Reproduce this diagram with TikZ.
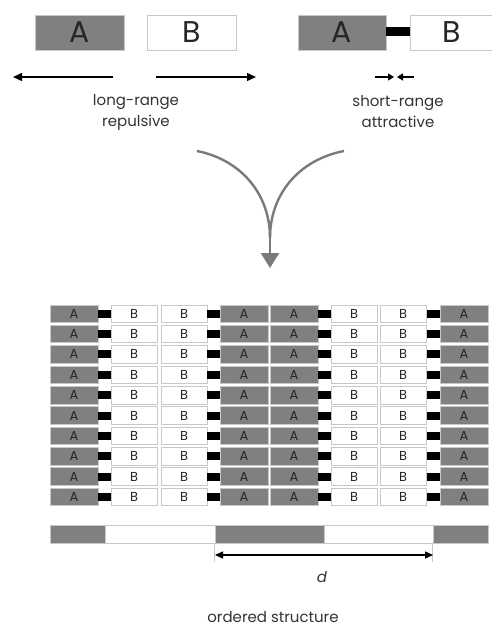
\documentclass[tikz,border=0pt]{standalone}
\usepackage{fontspec}
\setmainfont{Poppins}
\usetikzlibrary{arrows.meta}
\definecolor{agray}{HTML}{808080}
\definecolor{edgegray}{HTML}{C8C8C8}
\definecolor{curvegray}{HTML}{7A7A7A}
\definecolor{txtgray}{HTML}{333333}
\tikzset{
  abox/.style={draw=edgegray, line width=0.8pt, fill=agray, inner sep=0pt, text=black!85},
  bbox/.style={draw=edgegray, line width=0.8pt, fill=white, inner sep=0pt, text=black!85},
  bondbox/.style={fill=black, draw=none, inner sep=0pt},
  bigbox/.style={minimum width=89pt, minimum height=35pt, font=\fontsize{30}{30}\selectfont},
  cell/.style={minimum height=17.5pt, font=\fontsize{13}{13}\selectfont},
  barseg/.style={minimum height=18pt, inner sep=0pt},
  arr/.style={line width=1.4pt, -{Triangle[length=9pt,width=8pt]}},
  sarr/.style={line width=1.2pt, -{Triangle[length=6pt,width=7pt]}},
  lbl/.style={align=center, text=txtgray, font=\fontsize{15}{21}\selectfont, inner sep=0pt},
}
\begin{document}
\begin{tikzpicture}[x=1pt,y=-1pt]
\useasboundingbox (0,0) rectangle (491,628);
% top left: repulsive
\node[abox,bigbox] (tA) at (79.5,32.5) {A};
\node[bbox,bigbox] (tB) at (191.5,32.5) {B};
\coordinate (la0) at (113,77); \coordinate (la1) at (13,77);
\coordinate (ra0) at (156,77); \coordinate (ra1) at (256,77);
\draw[arr] (la0) -- (la1);
\draw[arr] (ra0) -- (ra1);
\node[lbl] (rep) at (136,112) {long-range\\repulsive};
% top right: attractive
\node[abox,bigbox,minimum width=88pt] (rA) at (342,32.5) {A};
\node[bondbox,minimum width=24pt,minimum height=9pt] (rbond) at (398,32) {};
\node[bbox,bigbox,minimum width=84pt] (rB) at (452,32.5) {B};
\coordinate (sa0) at (375,77); \coordinate (sa1) at (394,77);
\coordinate (sb0) at (414,77); \coordinate (sb1) at (397,77);
\draw[sarr] (sa0) -- (sa1);
\draw[sarr] (sb0) -- (sb1);
\node[lbl] (att) at (398,112) {short-range\\attractive};
% curved arrow
\coordinate (cl) at (197,151);
\coordinate (cr) at (344,151);
\coordinate (cm) at (270,238);
\coordinate (ctip) at (270,268);
\draw[curvegray, line width=2.4pt] (cl) .. controls (242,160) and (270,195) .. (cm);
\draw[curvegray, line width=2.4pt] (cr) .. controls (298,160) and (270,195) .. (cm);
\draw[curvegray, line width=2.4pt, -{Triangle[length=15pt,width=18pt]}] (cm) -- (ctip);
% ordered lamellae
\foreach \i in {0,...,9}{
  \pgfmathsetmacro{\yy}{313.75+\i*20.35}
  \node[abox,cell,minimum width=48pt] (a1-\i) at (74,\yy) {A};
  \node[bondbox,minimum width=13pt,minimum height=8pt] (k1-\i) at (104.5,\yy) {};
  \node[bbox,cell,minimum width=46pt] (b1-\i) at (134,\yy) {B};
  \node[bbox,cell,minimum width=46pt] (b2-\i) at (184,\yy) {B};
  \node[bondbox,minimum width=13pt,minimum height=8pt] (k2-\i) at (213.5,\yy) {};
  \node[abox,cell,minimum width=48pt] (a2-\i) at (244,\yy) {A};
  \node[abox,cell,minimum width=48pt] (a3-\i) at (294,\yy) {A};
  \node[bondbox,minimum width=13pt,minimum height=8pt] (k3-\i) at (324.5,\yy) {};
  \node[bbox,cell,minimum width=46pt] (b3-\i) at (354,\yy) {B};
  \node[bbox,cell,minimum width=46pt] (b4-\i) at (403,\yy) {B};
  \node[bondbox,minimum width=13pt,minimum height=8pt] (k4-\i) at (433,\yy) {};
  \node[abox,cell,minimum width=48pt] (a4-\i) at (464,\yy) {A};
}
% bottom bar
\node[abox,barseg,minimum width=55pt] (g1) at (77.5,534) {};
\node[bbox,barseg,minimum width=110pt] (w1) at (160,534) {};
\node[abox,barseg,minimum width=109pt] (g2) at (269.5,534) {};
\node[bbox,barseg,minimum width=109pt] (w2) at (378.5,534) {};
\node[abox,barseg,minimum width=55pt] (g3) at (460.5,534) {};
\coordinate (dl) at (215,555); \coordinate (dr) at (433,555);
\draw[edgegray, line width=0.6pt] (g2.south west) -- ++(0,19);
\draw[edgegray, line width=0.6pt] (g3.south west) -- ++(0,19);
\draw[line width=1.3pt, {Triangle[length=8pt,width=7pt]}-{Triangle[length=8pt,width=7pt]}] (dl) -- (dr);
\node[lbl, font=\fontsize{15}{15}\itshape] (d) at (322,577) {d};
\node[lbl, font=\fontsize{15}{15}\selectfont] (os) at (273,617) {ordered structure};
\end{tikzpicture}
\end{document}
